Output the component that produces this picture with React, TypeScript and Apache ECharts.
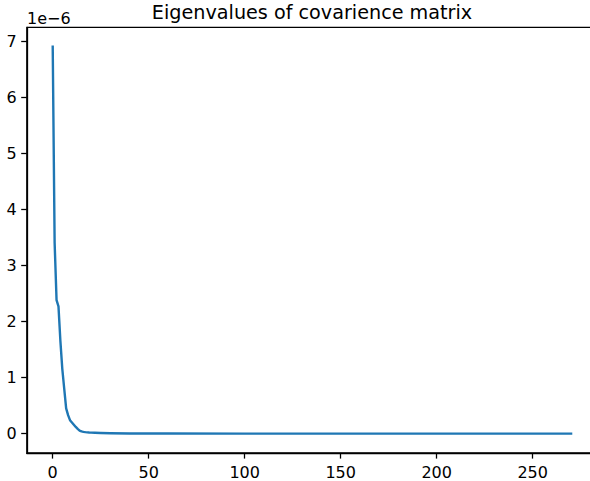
import React, { useEffect, useRef } from "react";
import * as echarts from "echarts";

// Eigenvalue index (x) and eigenvalue in units of 1e-6 (y)
const eigIndex = [0, 1, 2, 3, 4, 5, 6, 7, 8, 9, 10, 11, 12, 13, 14, 15, 16, 17, 18, 19, 20, 22, 25, 30, 40, 60, 100, 150, 200, 270];
const eigValueE6 = [6.9, 3.4, 2.38, 2.27, 1.65, 1.15, 0.8, 0.45, 0.33, 0.24, 0.2, 0.16, 0.12, 0.085, 0.055, 0.04, 0.032, 0.027, 0.023, 0.02, 0.018, 0.015, 0.011, 0.007, 0.004, 0.002, 0.001, 0.0005, 0.0003, 0.0001];

const xTicks = [0, 50, 100, 150, 200, 250];
const yTicks = [0, 1, 2, 3, 4, 5, 6, 7];

const titleText = "Eigenvalues of covarience matrix";
const offsetText = "1e\u22126";

export default function App() {
  const ref = useRef<HTMLDivElement>(null);
  useEffect(() => {
    document.body.style.margin = "0";
    const chart = echarts.init(ref.current!, null, { renderer: "svg" });
    const font = "DejaVu Sans";
    const xMin = -13.5;
    const xMax = 283.5;
    const yMin = -0.345;
    const yMax = 7.245;
    chart.setOption({
      animation: false,
      backgroundColor: "#ffffff",
      textStyle: { fontFamily: font },
      grid: {
        left: 26.8,
        top: 27.4,
        width: 570.2,
        height: 425.6,
        show: true,
        borderColor: "#000",
        borderWidth: 1.28,
        backgroundColor: "transparent",
        containLabel: false,
        outerBoundsMode: "none",
      },
      graphic: [
        {
          type: "text",
          x: 312,
          y: 12.6,
          style: {
            text: titleText,
            fontFamily: font,
            fontSize: 19.2,
            fill: "#000",
            align: "center",
            verticalAlign: "middle",
          },
        },
        {
          type: "text",
          x: 27,
          y: 18.4,
          style: {
            text: offsetText,
            fontFamily: font,
            fontSize: 16,
            fill: "#000",
            align: "left",
            verticalAlign: "middle",
          },
        },
      ],
      xAxis: {
        type: "value",
        min: xMin,
        max: xMax,
        axisLine: { show: true, onZero: false, lineStyle: { color: "#000", width: 1.28 } },
        axisTick: {
          show: true,
          customValues: xTicks,
          length: 5.6,
          lineStyle: { color: "#000", width: 1.28 },
        },
        axisLabel: {
          customValues: xTicks,
          fontFamily: font,
          fontSize: 16,
          color: "#000",
          margin: 11,
        },
        splitLine: { show: false },
      },
      yAxis: {
        type: "value",
        min: yMin,
        max: yMax,
        axisLine: { show: true, onZero: false, lineStyle: { color: "#000", width: 1.28 } },
        axisTick: {
          show: true,
          customValues: yTicks,
          length: 5.6,
          lineStyle: { color: "#000", width: 1.28 },
        },
        axisLabel: {
          customValues: yTicks,
          fontFamily: font,
          fontSize: 16,
          color: "#000",
          margin: 10,
        },
        splitLine: { show: false },
      },
      series: [
        {
          type: "line",
          data: eigIndex.map((x, i) => [x, eigValueE6[i]]),
          showSymbol: false,
          symbol: "none",
          lineStyle: { color: "#1f77b4", width: 2.4, cap: "square", join: "round" },
        },
      ],
    });
    return () => chart.dispose();
  }, []);
  return (
    <div
      ref={ref}
      style={{ position: "fixed", left: 0, top: 0, width: 590, height: 481 }}
    />
  );
}
